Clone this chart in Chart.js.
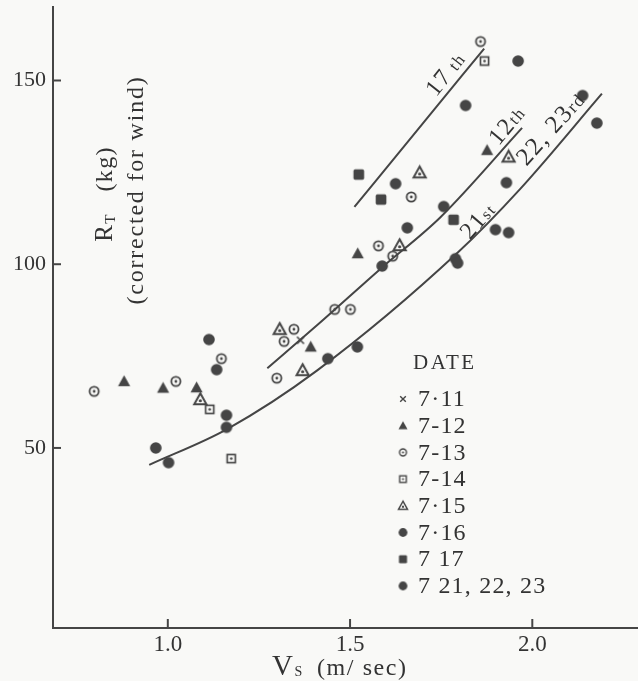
<!DOCTYPE html>
<html><head><meta charset="utf-8">
<script src="https://cdn.jsdelivr.net/npm/chart.js@4/dist/chart.umd.min.js"></script>
<style>html,body{margin:0;padding:0;background:#f9f9f7;}</style>
</head><body>
<canvas id="c" width="638" height="681"></canvas>
<script>
// ---------- data ----------
const xTicks = [1.0, 1.5, 2.0];
const yTicks = [50, 100, 150];

const legendLabels = ['7·11', '7-12', '7-13', '7-14', '7·15', '7·16', '7 17', '7 21, 22, 23'];

const d0711X = [1.364];
const d0711Y = [79.3];
const d0712X = [0.880, 0.987, 1.079, 1.392, 1.521, 1.876];
const d0712Y = [68.1, 66.3, 66.4, 77.5, 102.9, 131.0];
const d0713X = [0.798, 1.022, 1.147, 1.299, 1.319, 1.346, 1.458, 1.501, 1.578, 1.617, 1.668, 1.858];
const d0713Y = [65.4, 68.1, 74.3, 69.0, 79.0, 82.3, 87.7, 87.7, 105.0, 102.2, 118.3, 160.6];
const d0714X = [1.115, 1.174, 1.869];
const d0714Y = [60.5, 47.1, 155.3];
const d0715X = [1.089, 1.307, 1.370, 1.636, 1.691, 1.935];
const d0715Y = [63.2, 82.3, 71.1, 105.1, 124.9, 129.2];
const d0716X = [1.113, 1.134, 1.161, 1.625, 1.657, 1.817, 1.961];
const d0716Y = [79.5, 71.3, 58.9, 121.9, 109.9, 143.2, 155.3];
const d0717X = [1.524, 1.585, 1.784];
const d0717Y = [124.4, 117.6, 112.1];
const d0721X = [0.967, 1.002, 1.161, 1.439, 1.520, 1.588, 1.757, 1.789, 1.795, 1.899, 1.929, 1.935, 2.138, 2.177];
const d0721Y = [50.0, 46.0, 55.6, 74.3, 77.5, 99.5, 115.7, 101.5, 100.3, 109.4, 122.2, 108.6, 145.9, 138.4];

const curve17X = [1.512, 1.688, 1.868];
const curve17Y = [115.6, 136.9, 158.7];
const curve12X = [1.273, 1.414, 1.584, 1.748, 1.972];
const curve12Y = [71.7, 83.8, 98.8, 112.8, 137.1];
const curve21X = [0.949, 1.164, 1.410, 1.797, 1.967, 2.191];
const curve21Y = [45.4, 55.2, 71.1, 103.3, 120.5, 146.4];

// ---------- styling ----------
const INK = '#454545';
const TXT = '#333333';
const BG = '#f9f9f7';
const SERIF = '"Liberation Serif", "DejaVu Serif", serif';

function marker(kind, r) {
  const pad = 2;
  const size = Math.ceil(2 * r + 2 * pad);
  const c = document.createElement('canvas');
  c.width = c.height = size;
  const g = c.getContext('2d');
  const m = size / 2;
  g.fillStyle = INK; g.strokeStyle = INK;
  g.lineWidth = Math.max(1.4, r * 0.32);
  const triPath = () => {
    g.beginPath();
    g.moveTo(m, m - r);
    g.lineTo(m + r * 0.98, m + r * 0.75);
    g.lineTo(m - r * 0.98, m + r * 0.75);
    g.closePath();
  };
  const dot = (dy) => { g.beginPath(); g.arc(m, m + (dy || 0), Math.max(0.9, r * 0.25), 0, Math.PI * 2); g.fill(); };
  switch (kind) {
    case 'cross':
      g.beginPath();
      g.moveTo(m - r * 0.7, m - r * 0.7); g.lineTo(m + r * 0.7, m + r * 0.7);
      g.moveTo(m + r * 0.7, m - r * 0.7); g.lineTo(m - r * 0.7, m + r * 0.7);
      g.stroke(); break;
    case 'tri': triPath(); g.fill(); break;
    case 'openTri': triPath(); g.stroke(); dot(r * 0.2); break;
    case 'bull': g.beginPath(); g.arc(m, m, r * 0.82, 0, Math.PI * 2); g.stroke(); dot(0); break;
    case 'sqDot': g.strokeRect(m - r * 0.78, m - r * 0.78, r * 1.56, r * 1.56); dot(0); break;
    case 'dot': g.beginPath(); g.arc(m, m, r, 0, Math.PI * 2); g.fill(); break;
    case 'square':
      g.beginPath();
      if (g.roundRect) g.roundRect(m - r * 0.92, m - r * 0.92, r * 1.84, r * 1.84, r * 0.3);
      else g.rect(m - r * 0.92, m - r * 0.92, r * 1.84, r * 1.84);
      g.fill(); break;
  }
  return c;
}

const kinds = ['cross', 'tri', 'bull', 'sqDot', 'openTri', 'dot', 'square', 'dot'];
const plotR = [5, 6.2, 5.6, 5.2, 6.2, 5.8, 5.8, 5.8];
const legendR = [4, 4.6, 4.2, 4.2, 4.6, 4.4, 4.4, 4.4];
const plotMarkers = kinds.map((k, i) => marker(k, plotR[i]));
const legendMarkers = kinds.map((k, i) => marker(k, legendR[i]));

const seriesX = [d0711X, d0712X, d0713X, d0714X, d0715X, d0716X, d0717X, d0721X];
const seriesY = [d0711Y, d0712Y, d0713Y, d0714Y, d0715Y, d0716Y, d0717Y, d0721Y];
const toPts = (xs, ys) => xs.map((x, i) => ({ x: x, y: ys[i] }));

const pointSets = legendLabels.map((lab, i) => ({
  label: lab,
  data: toPts(seriesX[i], seriesY[i]),
  pointStyle: plotMarkers[i],
  pointRadius: plotR[i],
  showLine: false,
  order: 0
}));

const curveSet = (lab, xs, ys) => ({
  label: lab,
  data: toPts(xs, ys),
  showLine: true,
  pointRadius: 0,
  borderColor: INK,
  borderWidth: 2,
  tension: 0.4,
  cubicInterpolationMode: 'monotone',
  fill: false,
  order: 1
});

// ---------- plugins ----------
const bgPlugin = {
  id: 'bg',
  beforeDraw(chart) {
    const c = chart.ctx;
    c.save(); c.fillStyle = BG; c.fillRect(0, 0, chart.width, chart.height); c.restore();
  }
};

function drawRuns(c, x, y, angle, runs, align, spacing) {
  c.save();
  c.translate(x, y);
  c.rotate(angle);
  c.letterSpacing = (spacing || 0) + 'px';
  c.textBaseline = 'alphabetic';
  c.textAlign = 'left';
  let total = 0;
  runs.forEach(r => { c.font = r.size + 'px ' + SERIF; r.w = c.measureText(r.t).width + (r.gap || 0); total += r.w; });
  let cx = align === 'left' ? 0 : -total / 2;
  runs.forEach(r => {
    c.font = r.size + 'px ' + SERIF;
    c.fillText(r.t, cx, r.dy || 0);
    cx += r.w;
  });
  c.restore();
}

const decoPlugin = {
  id: 'deco',
  afterDraw(chart) {
    const c = chart.ctx;
    const xs = chart.scales.x, ys = chart.scales.y, a = chart.chartArea;
    c.save();
    // inward tick marks
    c.strokeStyle = INK; c.lineWidth = 2;
    yTicks.forEach(v => { const py = ys.getPixelForValue(v); c.beginPath(); c.moveTo(a.left, py); c.lineTo(a.left + 8, py); c.stroke(); });
    xTicks.forEach(v => { const px = xs.getPixelForValue(v); c.beginPath(); c.moveTo(px, a.bottom); c.lineTo(px, a.bottom - 9); c.stroke(); });
    c.fillStyle = TXT;

    // y title (rotated)
    drawRuns(c, 112, 194, -Math.PI / 2, [
      { t: 'R', size: 25 }, { t: 'T', size: 15, dy: 3 }, { t: '   (kg)', size: 24 }
    ], 'center', 1.3);
    drawRuns(c, 143, 190, -Math.PI / 2, [{ t: '(corrected for wind)', size: 24 }], 'center', 1.8);

    // x title
    drawRuns(c, 272, 675, 0, [
      { t: 'V', size: 29 }, { t: 'S', size: 14, dy: 1, gap: 13 }, { t: '(m/ sec)', size: 24 }
    ], 'left', 1.6);

    // curve labels (anchored in data space)
    const lab = (vx, vy, deg, runs) => drawRuns(c, xs.getPixelForValue(vx), ys.getPixelForValue(vy), deg * Math.PI / 180, runs, 'center', 1.5);
    lab(1.778, 150.6, -52, [{ t: '17', size: 24 }, { t: ' th', size: 17 }]);
    lab(1.946, 136.6, -50, [{ t: '12', size: 24 }, { t: 'th', size: 17 }]);
    lab(1.866, 110.6, -49, [{ t: '21', size: 24 }, { t: 'st', size: 16 }]);
    lab(2.066, 135.6, -48, [{ t: '22, 23', size: 25 }, { t: 'rd', size: 18 }]);

    // legend
    c.textBaseline = 'middle';
    c.textAlign = 'left';
    c.font = '21px ' + SERIF;
    c.letterSpacing = '2.5px';
    c.fillText('DATE', 413, 363);
    c.font = '24px ' + SERIF;
    c.letterSpacing = '1.2px';
    legendLabels.forEach((t, i) => {
      const yy = 399 + i * 26.7;
      const m = legendMarkers[i];
      c.drawImage(m, 403 - m.width / 2, yy - m.height / 2);
      c.fillText(t, 418, yy + 1);
    });
    c.restore();
  }
};

// ---------- chart ----------
new Chart(document.getElementById('c'), {
  type: 'scatter',
  data: {
    datasets: [
      ...pointSets,
      curveSet('17th', curve17X, curve17Y),
      curveSet('12th', curve12X, curve12Y),
      curveSet('21st, 22, 23rd', curve21X, curve21Y)
    ]
  },
  options: {
    responsive: false,
    animation: false,
    devicePixelRatio: 1,
    layout: { autoPadding: false, padding: { top: 7, right: 0, left: 0, bottom: 0 } },
    plugins: { legend: { display: false }, tooltip: { enabled: false } },
    scales: {
      x: {
        type: 'linear', min: 0.685, max: 2.29,
        afterFit(s) { s.height = 53; s.paddingLeft = 0; s.paddingRight = 0; },
        afterBuildTicks(s) { s.ticks = xTicks.map(v => ({ value: v })); },
        grid: { display: true, drawOnChartArea: false, drawTicks: false },
        border: { display: true, color: INK, width: 2 },
        ticks: { color: TXT, padding: 3, font: { family: SERIF, size: 23 }, callback: v => Number(v).toFixed(1), maxRotation: 0 }
      },
      y: {
        type: 'linear', min: 1, max: 170,
        afterFit(s) { s.width = 53; s.paddingTop = 0; s.paddingBottom = 0; },
        afterBuildTicks(s) { s.ticks = yTicks.map(v => ({ value: v })); },
        grid: { display: true, drawOnChartArea: false, drawTicks: false },
        border: { display: true, color: INK, width: 2 },
        ticks: { color: TXT, padding: 7, font: { family: SERIF, size: 22 } }
      }
    }
  },
  plugins: [bgPlugin, decoPlugin]
});
</script>
</body></html>
